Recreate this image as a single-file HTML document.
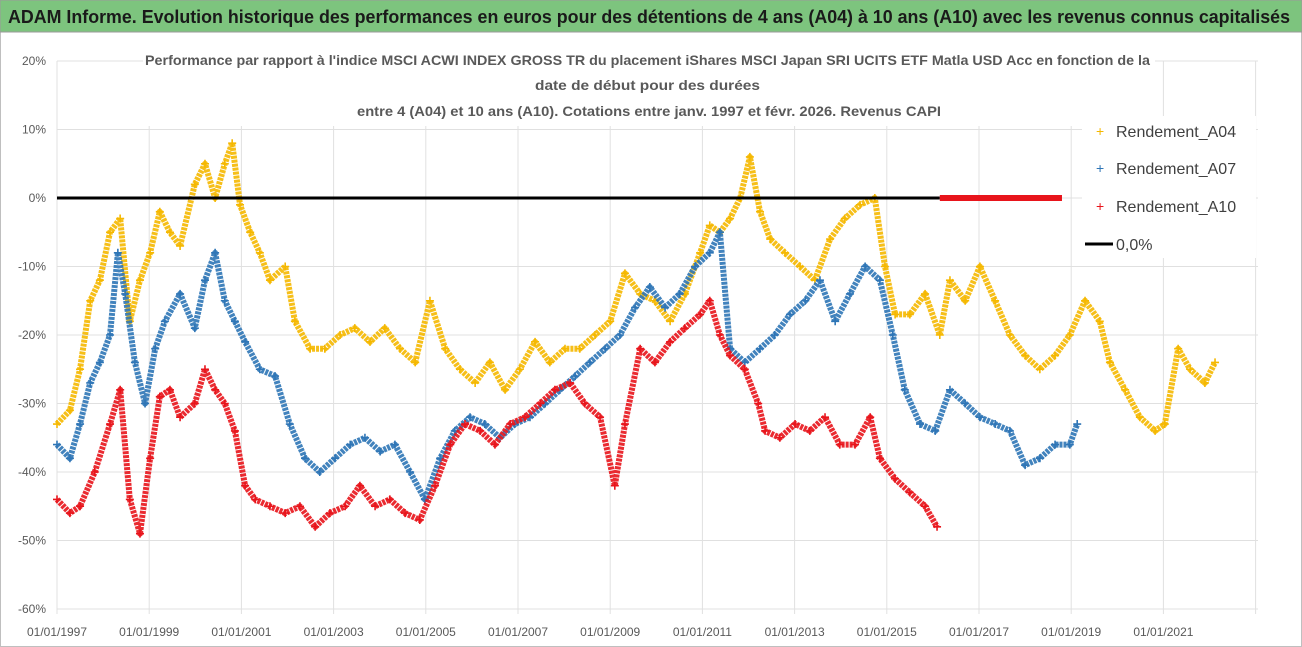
<!DOCTYPE html>
<html><head><meta charset="utf-8"><style>
body{margin:0;background:#fff;}
svg{display:block;font-family:"Liberation Sans",sans-serif;}
</style></head><body>
<svg id="chart" width="1302" height="647" viewBox="0 0 1302 647">
<rect x="0.5" y="0.5" width="1301" height="646" fill="#fff" stroke="#bfbfbf"/>
<rect x="0" y="0" width="1302" height="32" fill="#7dc47e" stroke="#9a9a9a"/>
<text x="8" y="23" font-size="18" font-weight="bold" fill="#1a1a1a" textLength="1282" lengthAdjust="spacingAndGlyphs">ADAM Informe. Evolution historique des performances en euros pour des détentions de 4 ans (A04) à 10 ans (A10) avec les revenus connus capitalisés</text>
<g id="grid"></g>
<g id="series"></g>
<g id="axes"></g>
<rect x="143" y="46" width="1012" height="80" fill="#fff"/>
<text x="145" y="65" font-size="14" font-weight="bold" fill="#595959" textLength="1005" lengthAdjust="spacingAndGlyphs">Performance par rapport à l'indice MSCI ACWI INDEX GROSS TR  du placement iShares MSCI Japan SRI UCITS ETF Matla USD Acc en fonction de la</text>
<text x="535" y="90" font-size="14" font-weight="bold" fill="#595959" textLength="225" lengthAdjust="spacingAndGlyphs">date de début pour des durées</text>
<text x="357" y="116" font-size="14" font-weight="bold" fill="#595959" textLength="584" lengthAdjust="spacingAndGlyphs">entre 4 (A04) et 10 ans (A10). Cotations entre janv. 1997 et févr. 2026. Revenus CAPI</text>
<g>
<rect x="1082" y="116" width="174" height="142" fill="#fff"/>
<text x="1096" y="136" font-size="14" fill="#f5b800">+</text>
<text x="1116" y="137" font-size="16" fill="#404040">Rendement_A04</text>
<text x="1096" y="173" font-size="14" fill="#2e75b6">+</text>
<text x="1116" y="174" font-size="16" fill="#404040">Rendement_A07</text>
<text x="1096" y="211" font-size="14" fill="#e8141b">+</text>
<text x="1116" y="212" font-size="16" fill="#404040">Rendement_A10</text>
<line x1="1085" y1="244" x2="1113" y2="244" stroke="#000" stroke-width="3"/>
<text x="1116" y="250" font-size="16" fill="#404040">0,0%</text>
</g>
</svg>
<script>
const yTicks=[20,10,0,-10,-20,-30,-40,-50,-60];
const xTickYears=[1997,1999,2001,2003,2005,2007,2009,2011,2013,2015,2017,2019,2021,2023];
const xTickLabels=["01/01/1997","01/01/1999","01/01/2001","01/01/2003","01/01/2005","01/01/2007","01/01/2009","01/01/2011","01/01/2013","01/01/2015","01/01/2017","01/01/2019","01/01/2021",""];
const a04Dates=[1997.0,1997.28,1997.5,1997.72,1997.93,1998.15,1998.37,1998.58,1998.8,1999.02,1999.23,1999.45,1999.67,1999.99,2000.21,2000.43,2000.64,2000.8,2000.97,2001.19,2001.4,2001.62,2001.95,2002.16,2002.49,2002.81,2003.14,2003.46,2003.79,2004.11,2004.44,2004.77,2005.09,2005.42,2005.74,2006.07,2006.39,2006.72,2007.04,2007.37,2007.69,2008.02,2008.34,2008.67,2009.0,2009.32,2009.65,2009.97,2010.3,2010.62,2010.95,2011.16,2011.38,2011.6,2011.82,2012.03,2012.25,2012.47,2012.79,2013.12,2013.44,2013.77,2014.09,2014.42,2014.74,2014.96,2015.18,2015.5,2015.83,2016.15,2016.37,2016.7,2017.02,2017.35,2017.67,2018.0,2018.32,2018.65,2018.97,2019.3,2019.62,2019.84,2020.17,2020.49,2020.82,2021.03,2021.32,2021.58,2021.9,2022.12];
const a04Values=[-33,-31,-25,-15,-12,-5,-3,-18,-12,-8,-2,-5,-7,2,5,0,5,8,-1,-5,-8,-12,-10,-18,-22,-22,-20,-19,-21,-19,-22,-24,-15,-22,-25,-27,-24,-28,-25,-21,-24,-22,-22,-20,-18,-11,-14,-15,-18,-14,-8,-4,-5,-3,0,6,-2,-6,-8,-10,-12,-6,-3,-1,0,-10,-17,-17,-14,-20,-12,-15,-10,-15,-20,-23,-25,-23,-20,-15,-18,-24,-28,-32,-34,-33,-22,-25,-27,-24];
const a07Dates=[1997.0,1997.28,1997.5,1997.72,1997.93,1998.15,1998.32,1998.48,1998.69,1998.91,1999.13,1999.34,1999.67,1999.99,2000.21,2000.43,2000.64,2000.86,2001.08,2001.4,2001.73,2002.05,2002.38,2002.7,2003.03,2003.36,2003.68,2004.01,2004.33,2004.66,2004.98,2005.31,2005.63,2005.96,2006.28,2006.61,2006.93,2007.26,2007.59,2007.91,2008.24,2008.56,2008.89,2009.21,2009.54,2009.86,2010.19,2010.51,2010.84,2011.16,2011.38,2011.6,2011.92,2012.25,2012.57,2012.9,2013.23,2013.55,2013.88,2014.2,2014.53,2014.85,2015.13,2015.39,2015.72,2016.05,2016.37,2016.7,2017.02,2017.35,2017.67,2018.0,2018.32,2018.65,2018.97,2019.13];
const a07Values=[-36,-38,-33,-27,-24,-20,-8,-14,-24,-30,-22,-18,-14,-19,-12,-8,-15,-18,-21,-25,-26,-33,-38,-40,-38,-36,-35,-37,-36,-40,-44,-38,-34,-32,-33,-35,-33,-32,-30,-28,-26,-24,-22,-20,-16,-13,-16,-14,-10,-8,-5,-22,-24,-22,-20,-17,-15,-12,-18,-14,-10,-12,-20,-28,-33,-34,-28,-30,-32,-33,-34,-39,-38,-36,-36,-33];
const a10Dates=[1997.0,1997.28,1997.5,1997.82,1998.15,1998.37,1998.58,1998.8,1999.02,1999.23,1999.45,1999.67,1999.99,2000.21,2000.43,2000.64,2000.86,2001.08,2001.3,2001.62,2001.95,2002.27,2002.6,2002.92,2003.25,2003.57,2003.9,2004.22,2004.55,2004.87,2005.2,2005.53,2005.85,2006.18,2006.5,2006.83,2007.15,2007.48,2007.8,2008.13,2008.45,2008.78,2009.1,2009.32,2009.65,2009.97,2010.3,2010.62,2010.95,2011.16,2011.38,2011.6,2011.92,2012.21,2012.36,2012.68,2013.01,2013.33,2013.66,2013.98,2014.31,2014.64,2014.85,2015.18,2015.5,2015.83,2016.09];
const a10Values=[-44,-46,-45,-40,-33,-28,-44,-49,-38,-29,-28,-32,-30,-25,-28,-30,-34,-42,-44,-45,-46,-45,-48,-46,-45,-42,-45,-44,-46,-47,-42,-36,-33,-34,-36,-33,-32,-30,-28,-27,-30,-32,-42,-33,-22,-24,-21,-19,-17,-15,-20,-23,-25,-30,-34,-35,-33,-34,-32,-36,-36,-32,-38,-41,-43,-45,-48];
const a10ZeroStart=[2016.15];
const a10ZeroEnd=[2018.8];
const a10ZeroLone=[2025.9];
const zeroLineRange=[1997,2016.15];

const NS="http://www.w3.org/2000/svg";
const X0=57,XPY=46.1,Y0=198,YP=6.85;
const xs=d=>X0+(d-1997)*XPY;
const ys=v=>Y0-v*YP;
function mk(tag,attrs,parent){const e=document.createElementNS(NS,tag);for(const k in attrs)e.setAttribute(k,attrs[k]);parent.appendChild(e);return e;}
const grid=document.getElementById('grid'),axes=document.getElementById('axes'),ser=document.getElementById('series');
yTicks.forEach(v=>{
  const l=mk('line',{x1:X0,x2:1258,y1:ys(v),y2:ys(v),stroke:'#e0e0e0','stroke-width':1},grid);
  
  
  const t=mk('text',{x:46,y:ys(v)+4,'font-size':12,fill:'#595959','text-anchor':'end'},axes);
  t.textContent=v+'%';
  
  
});
xTickYears.forEach((yr,i)=>{
  const l=mk('line',{x1:xs(yr),x2:xs(yr),y1:ys(20),y2:ys(-60)+5,stroke:'#e0e0e0','stroke-width':1},grid);
  
  
  const t=mk('text',{x:xs(yr),y:636,'font-size':12,fill:'#595959','text-anchor':'middle'},axes);
  t.textContent=xTickLabels[i];
  
  
});
function series(dates,vals,color,name){
  const g=mk('g',{},ser);
  
  
  const pts=dates.map((d,i)=>xs(d).toFixed(1)+','+ys(vals[i]).toFixed(1)).join(' ');
  mk('polyline',{points:pts,fill:'none',stroke:color,'stroke-width':6,'stroke-opacity':0.9,'stroke-linejoin':'round','stroke-dasharray':'3 1'},g);
  dates.forEach((d,i)=>{
    const x=xs(d),y=ys(vals[i]);
    const p=mk('path',{d:`M${x-4},${y}h8M${x},${y-4}v8`,stroke:color,'stroke-width':1.6},g);
    
    
  });
}
series(a04Dates,a04Values,'#f5b800','series-a04');
series(a07Dates,a07Values,'#2e75b6','series-a07');
series(a10Dates,a10Values,'#e8141b','series-a10');
const zl=mk('line',{x1:xs(zeroLineRange[0]),x2:xs(zeroLineRange[1]),y1:ys(0),y2:ys(0),stroke:'#000','stroke-width':3},ser);


const zr=mk('rect',{x:xs(a10ZeroStart[0]),y:ys(0)-3,width:xs(a10ZeroEnd[0])-xs(a10ZeroStart[0]),height:6,fill:'#e8141b'},ser);


const zp=mk('path',{d:`M${xs(a10ZeroLone[0])-3},${ys(0)}h6M${xs(a10ZeroLone[0])},${ys(0)-3}v6`,stroke:'#e8141b','stroke-width':1.4},ser);


</script>
</body></html>
